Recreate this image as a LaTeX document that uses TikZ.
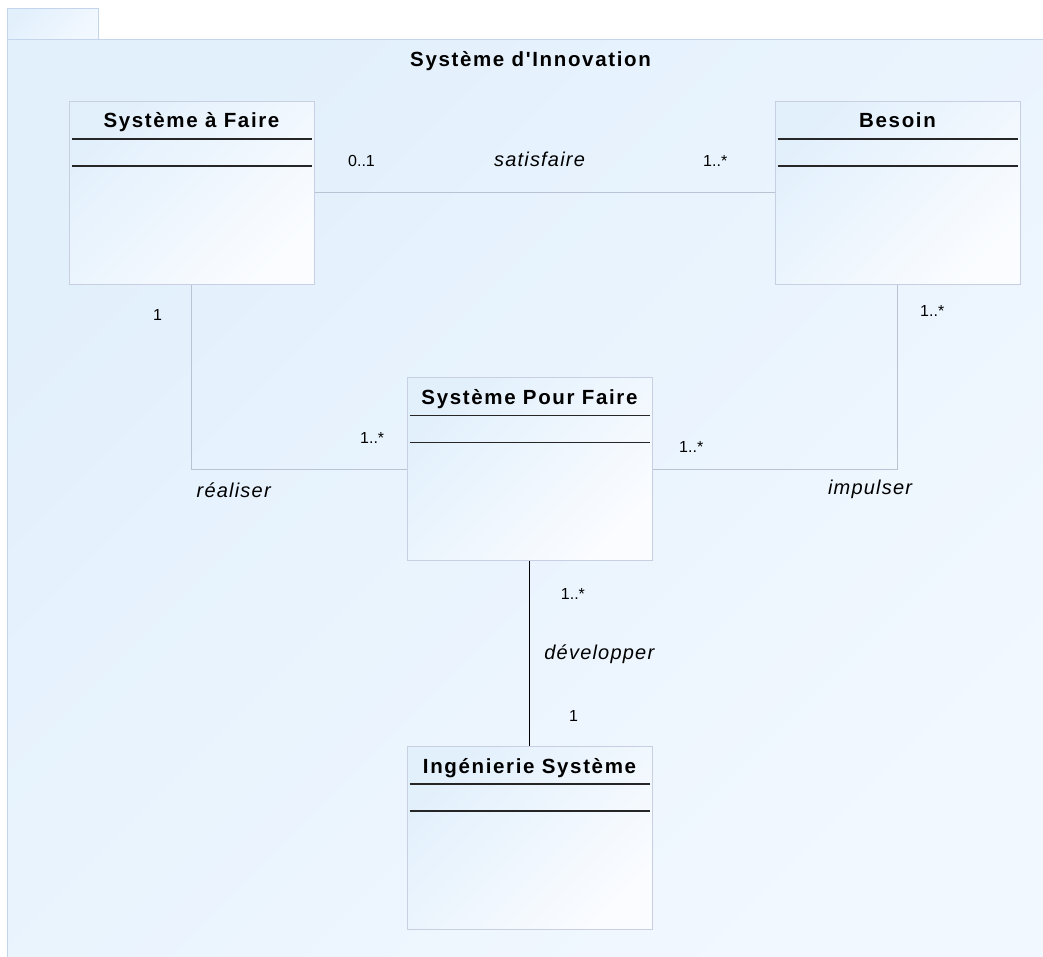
\documentclass[tikz,border=0pt]{standalone}
\usepackage{fontspec}
\setmainfont{Liberation Sans}
\newfontfamily\umlfont[LetterSpace=8]{Liberation Sans}
\newfontfamily\rolefont[LetterSpace=6]{Liberation Sans}
\usetikzlibrary{positioning}
\definecolor{pkgline}{HTML}{C4D4EA}
\definecolor{pkgtop}{HTML}{E2F0FC}
\definecolor{pkgbot}{HTML}{F2F8FF}
\definecolor{classline}{HTML}{C9CFE2}
\definecolor{classtop}{HTML}{E2F0FC}
\definecolor{classbot}{HTML}{FAFCFF}
\definecolor{assocline}{HTML}{B9C3D3}
\tikzstyle{package} = [draw=pkgline, line width=1pt, top color=pkgtop, bottom color=pkgbot, shading angle=45]
\tikzstyle{umlclass} = [rectangle, minimum width=245pt, minimum height=183pt, draw=classline, line width=1pt, top color=classtop, bottom color=classbot, shading angle=45]
\tikzstyle{classname} = [anchor=base, inner sep=0pt, font={\umlfont\bfseries\fontsize{20.5}{24}\selectfont}]
\tikzstyle{rolename} = [anchor=base, inner sep=0pt, font={\rolefont\itshape\fontsize{20}{24}\selectfont}]
\tikzstyle{mult} = [anchor=base west, inner sep=0pt, font=\fontsize{16}{19}\selectfont]
\tikzstyle{assoc} = [draw=assocline, line width=1pt]
\tikzstyle{sep} = [draw=black!85, line width=1.3pt]

\begin{document}
\begin{tikzpicture}[x=1pt, y=-1pt]
\useasboundingbox (0,0) rectangle (1043,956);
\clip (0,0) rectangle (1043,956);
\fill [white] (0,0) rectangle (1043,956);
% package frame
\draw [package] (7.5,8.5) rectangle (98.5,39);
\draw [package] (7.5,39) rectangle (1060,975);
\node (pkgname) [classname] at (530.5,66.7) {Système d'Innovation};

% classes
\node (saf) [umlclass] at (191.5,192.5) {};
\node (besoin) [umlclass] at (897.5,192.5) {};
\node (spf) [umlclass] at (529.5,469) {};
\node (ing) [umlclass] at (529.5,837.5) {};
\node (safname) [classname] at ([yshift=-27pt]saf.north) {Système à Faire};
\node (besoinname) [classname] at ([yshift=-27pt]besoin.north) {Besoin};
\node (spfname) [classname] at ([yshift=-27.5pt]spf.north) {Système Pour Faire};
\node (ingname) [classname] at ([yshift=-27.5pt]ing.north) {Ingénierie Système};
\foreach \c in {saf,besoin,spf,ing} {
  \draw [sep] ([xshift=3pt,yshift=-38.5pt]\c.north west) -- ([xshift=-3pt,yshift=-38.5pt]\c.north east);
  \draw [sep] ([xshift=3pt,yshift=-65.5pt]\c.north west) -- ([xshift=-3pt,yshift=-65.5pt]\c.north east);
}

% associations
\draw [assoc] (saf) -- (besoin);
\draw [assoc] (saf) |- (spf);
\draw [assoc] (besoin) |- (spf);
\draw [sep, line width=1.2pt, draw=black] (spf) -- (ing);

% roles and multiplicities
\node (satisfaire) [rolename] at (539.5,166) {satisfaire};
\node (msat1) [mult] at (348,166) {0..1};
\node (msat2) [mult] at (703,166) {1..*};
\node (realiser) [rolename] at (233.7,497) {réaliser};
\node (mreal1) [mult] at (153,320) {1};
\node (mreal2) [mult] at (360,443) {1..*};
\node (impulser) [rolename] at (870,494) {impulser};
\node (mimp1) [mult] at (920,316.7) {1..*};
\node (mimp2) [mult] at (679,452.7) {1..*};
\node (developper) [rolename] at (599.3,659.3) {développer};
\node (mdev1) [mult] at (560.7,599) {1..*};
\node (mdev2) [mult] at (569,721.7) {1};
\end{tikzpicture}
\end{document}
